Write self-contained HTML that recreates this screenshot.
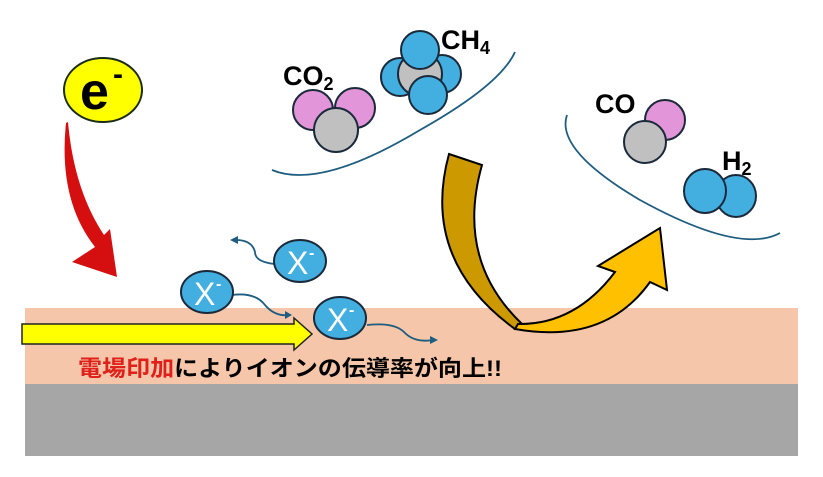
<!DOCTYPE html>
<html><head><meta charset="utf-8"><style>
body{margin:0;width:823px;height:477px;overflow:hidden;background:#fff}
svg{display:block}
text{font-family:"Liberation Sans","Noto Sans CJK JP",sans-serif;font-weight:bold}
</style></head><body>
<svg width="823" height="477" viewBox="0 0 823 477">
<rect x="25" y="308" width="773" height="76" fill="#f5c6aa"/>
<rect x="25" y="384" width="773" height="72" fill="#a6a6a6"/>
<!-- e- -->
<ellipse cx="103" cy="90" rx="39" ry="32" fill="#ffff00" stroke="#1a2b1a" stroke-width="2"/>
<text x="80" y="109" font-size="52" fill="#000">e</text>
<text x="113" y="84" font-size="30" fill="#000">-</text>
<!-- red arrow -->
<path d="M66,123 Q58,200 95,247 L72,262 L117,277 L110,229 L104,235 Q74,190 68,122 Z" fill="#d50f0f"/>
<!-- yellow arrow -->
<path d="M22,324 L294,324 L294,318 L312,334 L294,350 L294,344 L22,344 Z" fill="#ffff00" stroke="#222" stroke-width="1.5"/>
<text x="78" y="376" font-size="22" textLength="424" lengthAdjust="spacingAndGlyphs"><tspan fill="#e0201a">電場印加</tspan><tspan fill="#000">によりイオンの伝導率が向上!!</tspan></text>
<!-- ion tails -->
<g fill="none" stroke="#1f5d80" stroke-width="1.8">
<path d="M275,264 Q255,262 255,252 Q252,240 236,240"/>
<path d="M232,295 Q255,292 265,305 Q275,317 290,315"/>
<path d="M367,325 Q395,322 405,333 Q415,343 434,340"/>
<path d="M272,170 Q320,190 420,130 Q500,85 515,52"/>
<path d="M567,115 Q555,150 640,200 Q740,255 780,233"/>
</g>
<g fill="#1f5d80">
<polygon points="230,240 238,236 238,244"/>
<polygon points="292,315 285,311 285,319"/>
<polygon points="438,340 430,336 430,344"/>
</g>
<!-- ions -->
<g stroke="#1b2a3a" stroke-width="2" fill="#43aee0">
<ellipse cx="300" cy="261" rx="26" ry="21"/>
<ellipse cx="207" cy="292" rx="26" ry="21"/>
<ellipse cx="340" cy="318" rx="26" ry="21"/>
</g>
<g fill="#fff" font-size="32" font-weight="normal" style="font-weight:normal">
<text x="287" y="274" style="font-weight:normal">X</text><text x="309" y="258" font-size="16">-</text>
<text x="194" y="305" style="font-weight:normal">X</text><text x="216" y="289" font-size="16">-</text>
<text x="327" y="331" style="font-weight:normal">X</text><text x="349" y="315" font-size="16">-</text>
</g>
<!-- CO2 -->
<g stroke="#1b2a3a" stroke-width="2">
<circle cx="313" cy="110" r="20" fill="#e295d8"/>
<circle cx="355" cy="108" r="20" fill="#e295d8"/>
<circle cx="336" cy="130" r="22" fill="#c0c0c0"/>
<!-- CH4 -->
<circle cx="400" cy="77" r="19" fill="#43aee0"/>
<circle cx="442" cy="74" r="19" fill="#43aee0"/>
<circle cx="420" cy="74" r="22" fill="#c0c0c0"/>
<circle cx="420" cy="50" r="19" fill="#43aee0"/>
<circle cx="428" cy="95" r="19" fill="#43aee0"/>
<!-- CO -->
<circle cx="665" cy="120" r="20" fill="#e295d8"/>
<circle cx="645" cy="142" r="21" fill="#c0c0c0"/>
<!-- H2 -->
<ellipse cx="736" cy="196" rx="20" ry="21" fill="#43aee0"/>
<ellipse cx="705" cy="191" rx="21" ry="22" fill="#43aee0"/>
</g>
<g font-size="27" fill="#000">
<text x="283" y="85">CO<tspan font-size="18" dy="5">2</tspan></text>
<text x="441" y="49">CH<tspan font-size="18" dy="5">4</tspan></text>
<text x="595" y="113">CO</text>
<text x="722" y="170">H<tspan font-size="18" dy="5">2</tspan></text>
</g>
<!-- big arrow -->
<path d="M449,154 L482,165 Q455,260 522,324 L515,329 Q420,260 449,154 Z" fill="#cc9900" stroke="#000" stroke-width="2"/>
<path d="M518,324 Q575,325 615,272 L598,266 L660,228 L667,290 L650,282 Q605,345 515,329 Z" fill="#ffc000" stroke="#000" stroke-width="2"/>
</svg>
</body></html>
